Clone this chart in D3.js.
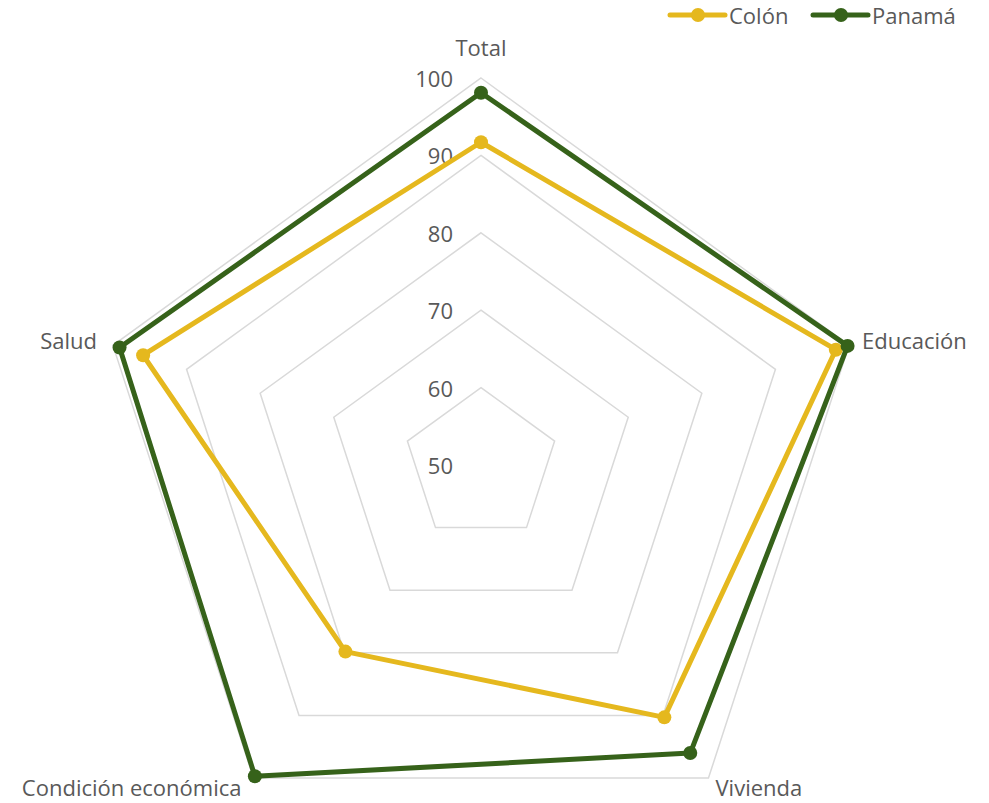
<!DOCTYPE html>
<html>
<head>
<meta charset="utf-8">
<script src="https://cdn.jsdelivr.net/npm/d3@7"></script>
<style>
  body { margin: 0; background: #fff; }
  text { font-family: "Open Sans", sans-serif; fill: #595959; }
</style>
</head>
<body>
<div id="chart"></div>
<script>
// Data
const axes = ["Total", "Educación", "Vivienda", "Condición económica", "Salud"];
const colon = [91.7, 98.2, 90.3, 79.8, 95.9];
const panama = [98.1, 99.8, 96.0, 99.7, 99.1];
const ticks = [50, 60, 70, 80, 90, 100];
const seriesNames = ["Colón", "Panamá"];

// Dimensions
const width = 989, height = 803;
const cx = 481, cy = 465, R = 387;
const colors = ["#E5B81E", "#36621A"];

const svg = d3.select("#chart")
    .append("svg")
    .attr("width", width)
    .attr("height", height);

const r = d3.scaleLinear().domain([50, 100]).range([0, R]);
const angle = i => i * 2 * Math.PI / axes.length;
const pt = (i, v) => [cx + r(v) * Math.sin(angle(i)), cy - r(v) * Math.cos(angle(i))];

// Grid pentagons
svg.selectAll(".grid")
    .data(ticks.filter(t => t > 50))
    .join("polygon")
    .attr("class", "grid")
    .attr("points", t => axes.map((a, i) => pt(i, t).join(",")).join(" "))
    .attr("fill", "none")
    .attr("stroke", "#D9D9D9")
    .attr("stroke-width", 1.5);

// Tick labels
svg.selectAll(".tick")
    .data(ticks)
    .join("text")
    .attr("class", "tick")
    .attr("x", cx - 28)
    .attr("y", t => cy - r(t))
    .attr("text-anchor", "end")
    .attr("dominant-baseline", "central")
    .style("font-size", "22px")
    .text(d => d);

// Axis labels
const labelOffsets = [[0, -31, "middle"], [13, -5, "start"], [7, 9, "start"], [-12, 9, "end"], [-16, -5, "end"]];
svg.selectAll(".axis-label")
    .data(axes)
    .join("text")
    .attr("class", "axis-label")
    .attr("x", (d, i) => pt(i, 100)[0] + labelOffsets[i][0])
    .attr("y", (d, i) => pt(i, 100)[1] + labelOffsets[i][1])
    .attr("text-anchor", (d, i) => labelOffsets[i][2])
    .attr("dominant-baseline", "central")
    .style("font-size", "22px")
    .text(d => d);

// Series
const series = [colon, panama];
const line = d3.line().curve(d3.curveLinearClosed);
series.forEach((vals, s) => {
    const pts = vals.map((v, i) => pt(i, v));
    svg.append("path")
        .attr("d", line(pts))
        .attr("fill", "none")
        .attr("stroke", colors[s])
        .attr("stroke-width", 5)
        .attr("stroke-linejoin", "round");
    svg.selectAll(".dot" + s)
        .data(pts)
        .join("circle")
        .attr("cx", d => d[0])
        .attr("cy", d => d[1])
        .attr("r", 7)
        .attr("fill", colors[s]);
});

// Legend
const legendX = [670, 813];
const legend = svg.selectAll(".legend")
    .data(seriesNames)
    .join("g")
    .attr("class", "legend")
    .attr("transform", (d, i) => `translate(${legendX[i]},15)`);
legend.append("line")
    .attr("x1", 0).attr("x2", 55)
    .attr("stroke", (d, i) => colors[i])
    .attr("stroke-width", 5)
    .attr("stroke-linecap", "round");
legend.append("circle")
    .attr("cx", 28).attr("r", 7)
    .attr("fill", (d, i) => colors[i]);
legend.append("text")
    .attr("x", 59)
    .attr("dominant-baseline", "central")
    .style("font-size", "22px")
    .text(d => d);
</script>
</body>
</html>
